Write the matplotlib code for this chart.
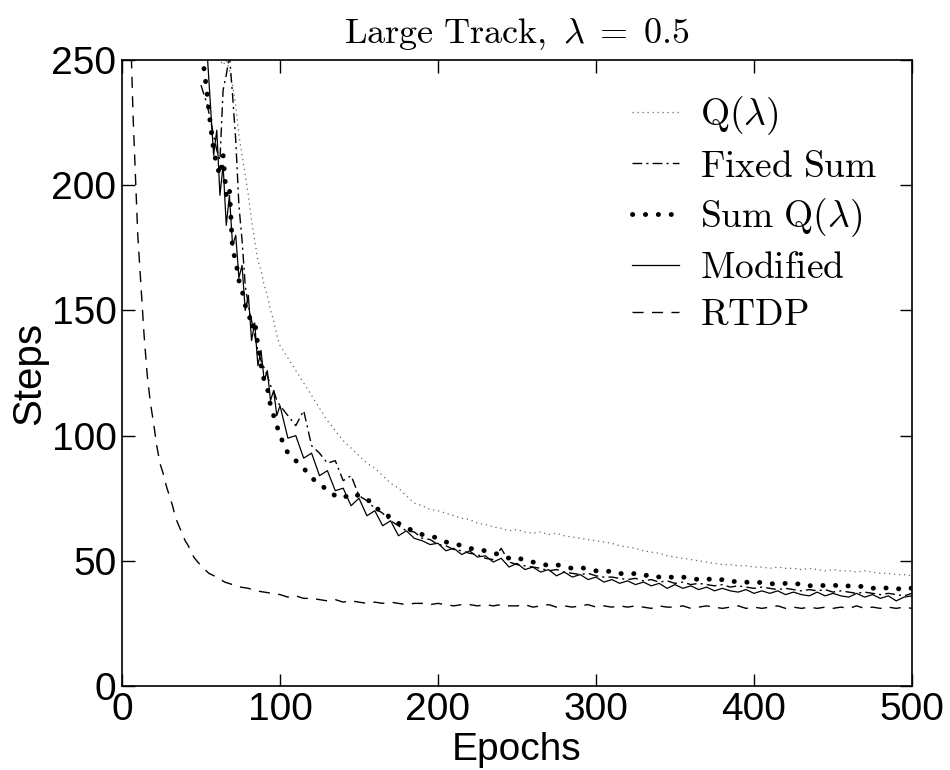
import matplotlib
matplotlib.use('Agg')
import matplotlib.pyplot as plt
import numpy as np

plt.rcParams['font.family'] = ['Liberation Sans', 'DejaVu Sans']
plt.rcParams['mathtext.fontset'] = 'cm'

# epochs: every 2 up to 98, then every 5
ep_main = list(range(50, 100, 2)) + list(range(100, 501, 5))

modified = [290, 270, 252, 232, 212, 222, 196, 208, 184, 196,
            176, 180, 163, 168, 150, 156, 138, 145, 128, 134,
            122, 126, 114, 118, 108,
            112, 99, 100, 91, 93, 84, 86, 78, 79, 72,
            75, 68, 70, 64, 66, 60, 62, 59, 58, 56.5,
            57, 54, 55, 52.5, 54, 51.5, 52, 49.5, 51, 47.5,
            49, 46.5, 47.5, 45.5, 46.5, 44, 45.5, 43.5, 44.5, 42.5,
            43.5, 41.5, 42.5, 41, 42, 40.5, 41.5, 40, 41, 39,
            40.5, 39, 40, 38.5, 39.5, 38, 39, 38, 37.5, 38.5,
            37, 38, 37, 38, 36.5, 37.5, 36.5, 36, 37.5, 36,
            37, 36, 35.5, 37, 35.5, 36.5, 35, 36, 34, 35.5,
            36]

sum_q = [262, 246, 236, 224, 214, 208, 204, 212, 196, 199,
         174, 170, 162, 158, 152, 150, 143, 146, 136, 128,
         122, 119, 112, 108, 104,
         100, 93, 90, 87, 83, 81, 78, 76, 75, 77,
         76, 75, 71, 70, 67, 65, 63, 62, 60.5, 60,
         59, 57.5, 57, 56, 55, 54.5, 54, 53, 52.5, 51,
         51.5, 50, 49.5, 49, 48, 48.5, 47.5, 47, 47.5, 46.5,
         46, 45.5, 46, 45, 44.5, 45, 44, 44.5, 43.5, 44,
         43, 43.5, 43, 42.5, 43, 42, 42.5, 41.5, 42, 41.5,
         41, 41.5, 41, 40.5, 41, 40.5, 41, 40, 40.5, 40,
         40.5, 39.5, 40, 39.5, 40, 39, 39.5, 39, 38.5, 39.5,
         39]

fixed_sum = [240, 236, 232, 226, 220, 214, 210, 238, 244, 252,
             236, 218, 192, 178, 160, 152, 146, 140, 134, 130,
             127, 124, 120, 118, 114,
             112, 108, 104, 110, 96, 93, 89, 90, 82, 84,
             76, 74, 71, 69, 66, 64, 62, 61.5, 59, 58.5,
             56.5, 56, 54.5, 54, 53, 52.5, 51, 50.5, 55, 49.5,
             48.5, 48, 47.5, 47, 46, 46.5, 45.5, 45, 44.5, 45,
             44, 43.5, 43.5, 43, 42.5, 43, 42, 42.5, 41.5, 42,
             41, 41.5, 40.5, 41, 40.5, 40, 40.5, 39.5, 40, 39.5,
             39, 39.5, 39, 38.5, 39, 38.5, 38, 38.5, 38, 38.5,
             37.5, 38, 37.5, 37, 37.5, 37, 36.5, 37, 36.5, 36,
             37]

q_lambda = [300, 290, 280, 268, 256, 252, 250, 248, 250, 246,
            240, 232, 220, 212, 204, 196, 186, 178, 170, 166,
            160, 156, 150, 146, 140,
            136, 131, 126, 121, 116, 111, 106, 102, 98, 95,
            92, 89, 87, 84, 81, 79, 76, 73, 72, 70.5,
            70, 69, 68, 67, 66.5, 65, 64.5, 63.5, 63, 62,
            62.5, 61.5, 61, 61.5, 60.5, 61, 60, 59.5, 59, 58.5,
            58, 57.5, 57, 56, 55.5, 55, 54, 53.5, 53, 52,
            51.5, 51, 50.5, 50, 49.5, 49, 48.5, 48.5, 48, 48,
            47.5, 47.5, 47, 47.5, 47, 47, 46.5, 47, 46.5, 46,
            46.5, 46, 46, 45.5, 46, 45.5, 45, 45, 44.5, 44.5,
            44]

ep_rtdp = [1, 3, 5, 6, 7, 8, 10, 12, 14, 16, 18, 20, 22, 24, 26, 28, 30,
           32, 34, 36, 38, 40, 42, 44, 46, 48, 50] + list(range(55, 501, 5))
rtdp = [500, 400, 280, 250, 228, 212, 180, 160, 140, 124,
        113, 105, 96, 89, 85, 80, 76, 72, 67, 64,
        61, 58, 56, 53, 51, 49.5, 48,
        45, 43.5, 41.5, 40.5, 39.5, 39, 38, 37.5, 37, 36.5,
        35.5, 36, 35, 35, 34.5, 34, 34.5, 33.5, 34, 33.5,
        33, 33.5, 33, 33.5, 33, 32.5, 33, 33, 32.5, 33,
        32.5, 32, 32.5, 32.5, 32, 32.5, 32, 32.5, 32,
        32, 32.5, 31.5, 32, 32.5, 31.5, 32, 31.5, 32, 32.5,
        31.5, 32, 31.5, 32, 31.5, 32, 31.5, 31, 32, 31.5,
        31.5, 32, 31, 31.5, 32, 31.5, 31, 31.5, 32, 31,
        31.5, 31, 31.5, 32, 31, 31.5, 31, 31.5, 31, 31.5,
        31, 31.5, 31, 32, 31, 31.5, 31, 31.5, 31, 31.5,
        31]

fig = plt.figure(figsize=(9.5, 7.7), dpi=100)
ax = fig.add_axes([0.1284, 0.1091, 0.8316, 0.8129])

ax.plot(ep_main, q_lambda, color='0.4', lw=0.9, linestyle=(0, (1, 3)),
        label=r'$\mathrm{Q}(\lambda)$')
ax.plot(ep_main, fixed_sum, color='black', lw=1.0, linestyle=(0, (7, 3, 1.5, 3)),
        label=r'$\mathrm{Fixed\ Sum}$')
ax.plot(ep_main, sum_q, color='black', lw=3.5, linestyle=(0, (0.05, 2.6)),
        dash_capstyle='round', label=r'$\mathrm{Sum\ Q}(\lambda)$')
ax.plot(ep_main, modified, color='black', lw=0.9, label=r'$\mathrm{Modified}$')
ax.plot(ep_rtdp, rtdp, color='black', lw=1.0, linestyle=(0, (8, 6)),
        label=r'$\mathrm{RTDP}$')

ax.set_xlim(0, 500)
ax.set_ylim(0, 250)
ax.set_xticks([0, 100, 200, 300, 400, 500])
ax.set_yticks([0, 50, 100, 150, 200, 250])
ax.tick_params(direction='in', length=9, width=1, top=True, right=True,
               labelsize=28, pad=4)
for s in ax.spines.values():
    s.set_linewidth(1.2)

ax.set_xlabel('Epochs', fontsize=28, labelpad=3)
ax.set_ylabel('Steps', fontsize=29, labelpad=2)
ax.set_title(r'$\mathrm{Large\ Track,}\ \lambda\;=\;0.5$', fontsize=26, pad=12)

ax.legend(loc='upper right', bbox_to_anchor=(0.956, 0.945), frameon=False,
          fontsize=27, handlelength=1.25, handletextpad=0.55, labelspacing=0.3,
          borderpad=0, borderaxespad=0)

fig.savefig('out.png', dpi=100)
